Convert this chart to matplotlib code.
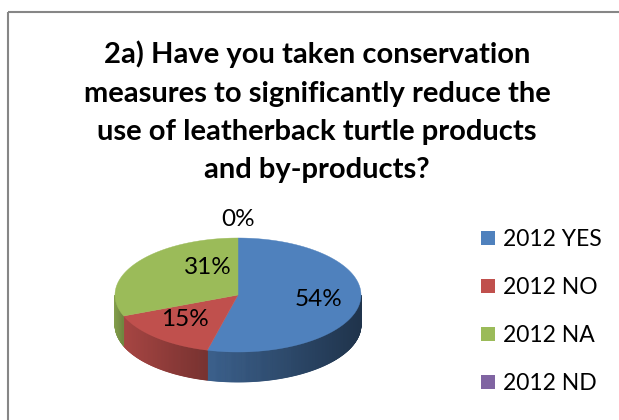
import numpy as np
import matplotlib
matplotlib.use('Agg')
import matplotlib.pyplot as plt
from matplotlib.patches import Polygon, Rectangle
import matplotlib.colors as mcolors

# ---- data ----
categories = ['2012 YES', '2012 NO', '2012 NA', '2012 ND']
values = [54, 15, 31, 0]
colors = ['#4F81BD', '#C0504D', '#9BBB59', '#8064A2']
title_lines = ['2a) Have you taken conservation',
               'measures to significantly reduce the',
               'use of leatherback turtle products',
               'and by-products?']

# ---- layout ----
W, H = 619, 420
FONT = ['Lato', 'DejaVu Sans']
fig = plt.figure(figsize=(W / 100, H / 100), dpi=100)
ax = fig.add_axes([0, 0, 1, 1])
ax.set_xlim(0, W)
ax.set_ylim(H, 0)
ax.axis('off')

# chart border
ax.add_patch(Rectangle((8, 12), W, H, fill=False, edgecolor='#868686', lw=1.5))

# title
title_fs = 21
title_baselines = [63, 102, 140, 178]
for line, yb in zip(title_lines, title_baselines):
    ax.text(317, yb, line, ha='center', va='baseline', fontsize=title_fs,
            fontweight='bold', family=FONT, color='black')

# pie geometry
cx, cy, a, b, depth = 238, 295, 123, 57, 30


def pt(theta_deg, rx=1.0, ry=1.0):
    t = np.radians(theta_deg)
    return cx + rx * a * np.sin(t), cy - ry * b * np.cos(t)


def darken(c, f):
    r, g, bb = mcolors.to_rgb(c)
    return (r * f, g * f, bb * f)


total = float(sum(values))
fracs = np.array(values) / total
ends = np.cumsum(fracs) * 360
starts = ends - fracs * 360
shade = [(0.74, 0.40), (0.87, 0.62), (0.85, 0.72), (0.8, 0.6)]

# sides (front-facing part: theta 90..270)
for s, e, c, (f0, f1) in zip(starts, ends, colors, shade):
    lo, hi = max(s, 90), min(e, 270)
    if hi <= lo:
        continue
    n = max(int((hi - lo) * 2), 2)
    th = np.linspace(hi, lo, n + 1)  # left to right
    xl, _ = pt(hi)
    xr, _ = pt(lo)
    for i in range(n):
        t0, t1 = th[i], th[i + 1]
        x0, y0 = pt(t0)
        x1, y1 = pt(t1)
        xm = 0.5 * (x0 + x1)
        u = (xm - xl) / max(xr - xl, 1e-6)
        f = f0 + (f1 - f0) * u
        col = darken(c, f)
        ax.add_patch(Polygon([(x0, y0), (x1, y1), (x1, y1 + depth), (x0, y0 + depth)],
                             closed=True, facecolor=col, edgecolor=col, lw=0.6,
                             zorder=2))

# top faces
for s, e, c in zip(starts, ends, colors):
    if e - s <= 0:
        continue
    th = np.linspace(s, e, max(int(e - s) * 2, 2))
    xs, ys = pt(th)
    verts = [(cx, cy)] + list(zip(xs, ys))
    ax.add_patch(Polygon(verts, closed=True, facecolor=c, edgecolor=c, lw=0.3,
                         zorder=3))

# data labels
label_fs = 17.5
label_factor = [(0.664, 0.28), (0.652, 0.514), (0.30, 0.917), (1.0, 1.36)]
cap_half = 0.36 * label_fs * 100 / 72
mids = (starts + ends) / 2
for v, m, (rx, ry) in zip(values, mids, label_factor):
    pct = int(round(100 * v / total))
    x, y = pt(m, rx, ry)
    ax.text(x, y + cap_half, f'{pct}%', ha='center', va='baseline',
            fontsize=label_fs, family=FONT, color='black', zorder=5)

# legend
leg_fs = 16.5
leg_x, leg_y0, leg_dy, sq = 481, 238, 48, 14
leg_cap_half = 0.36 * leg_fs * 100 / 72
for i, (cat, c) in enumerate(zip(categories, colors)):
    yc = leg_y0 + i * leg_dy
    ax.add_patch(Rectangle((leg_x, yc - sq / 2), sq, sq, facecolor=c,
                           edgecolor='none'))
    ax.text(leg_x + 22, yc + leg_cap_half, cat, ha='left', va='baseline',
            fontsize=leg_fs, family=FONT, color='black')

fig.savefig('out.png', dpi=100)
